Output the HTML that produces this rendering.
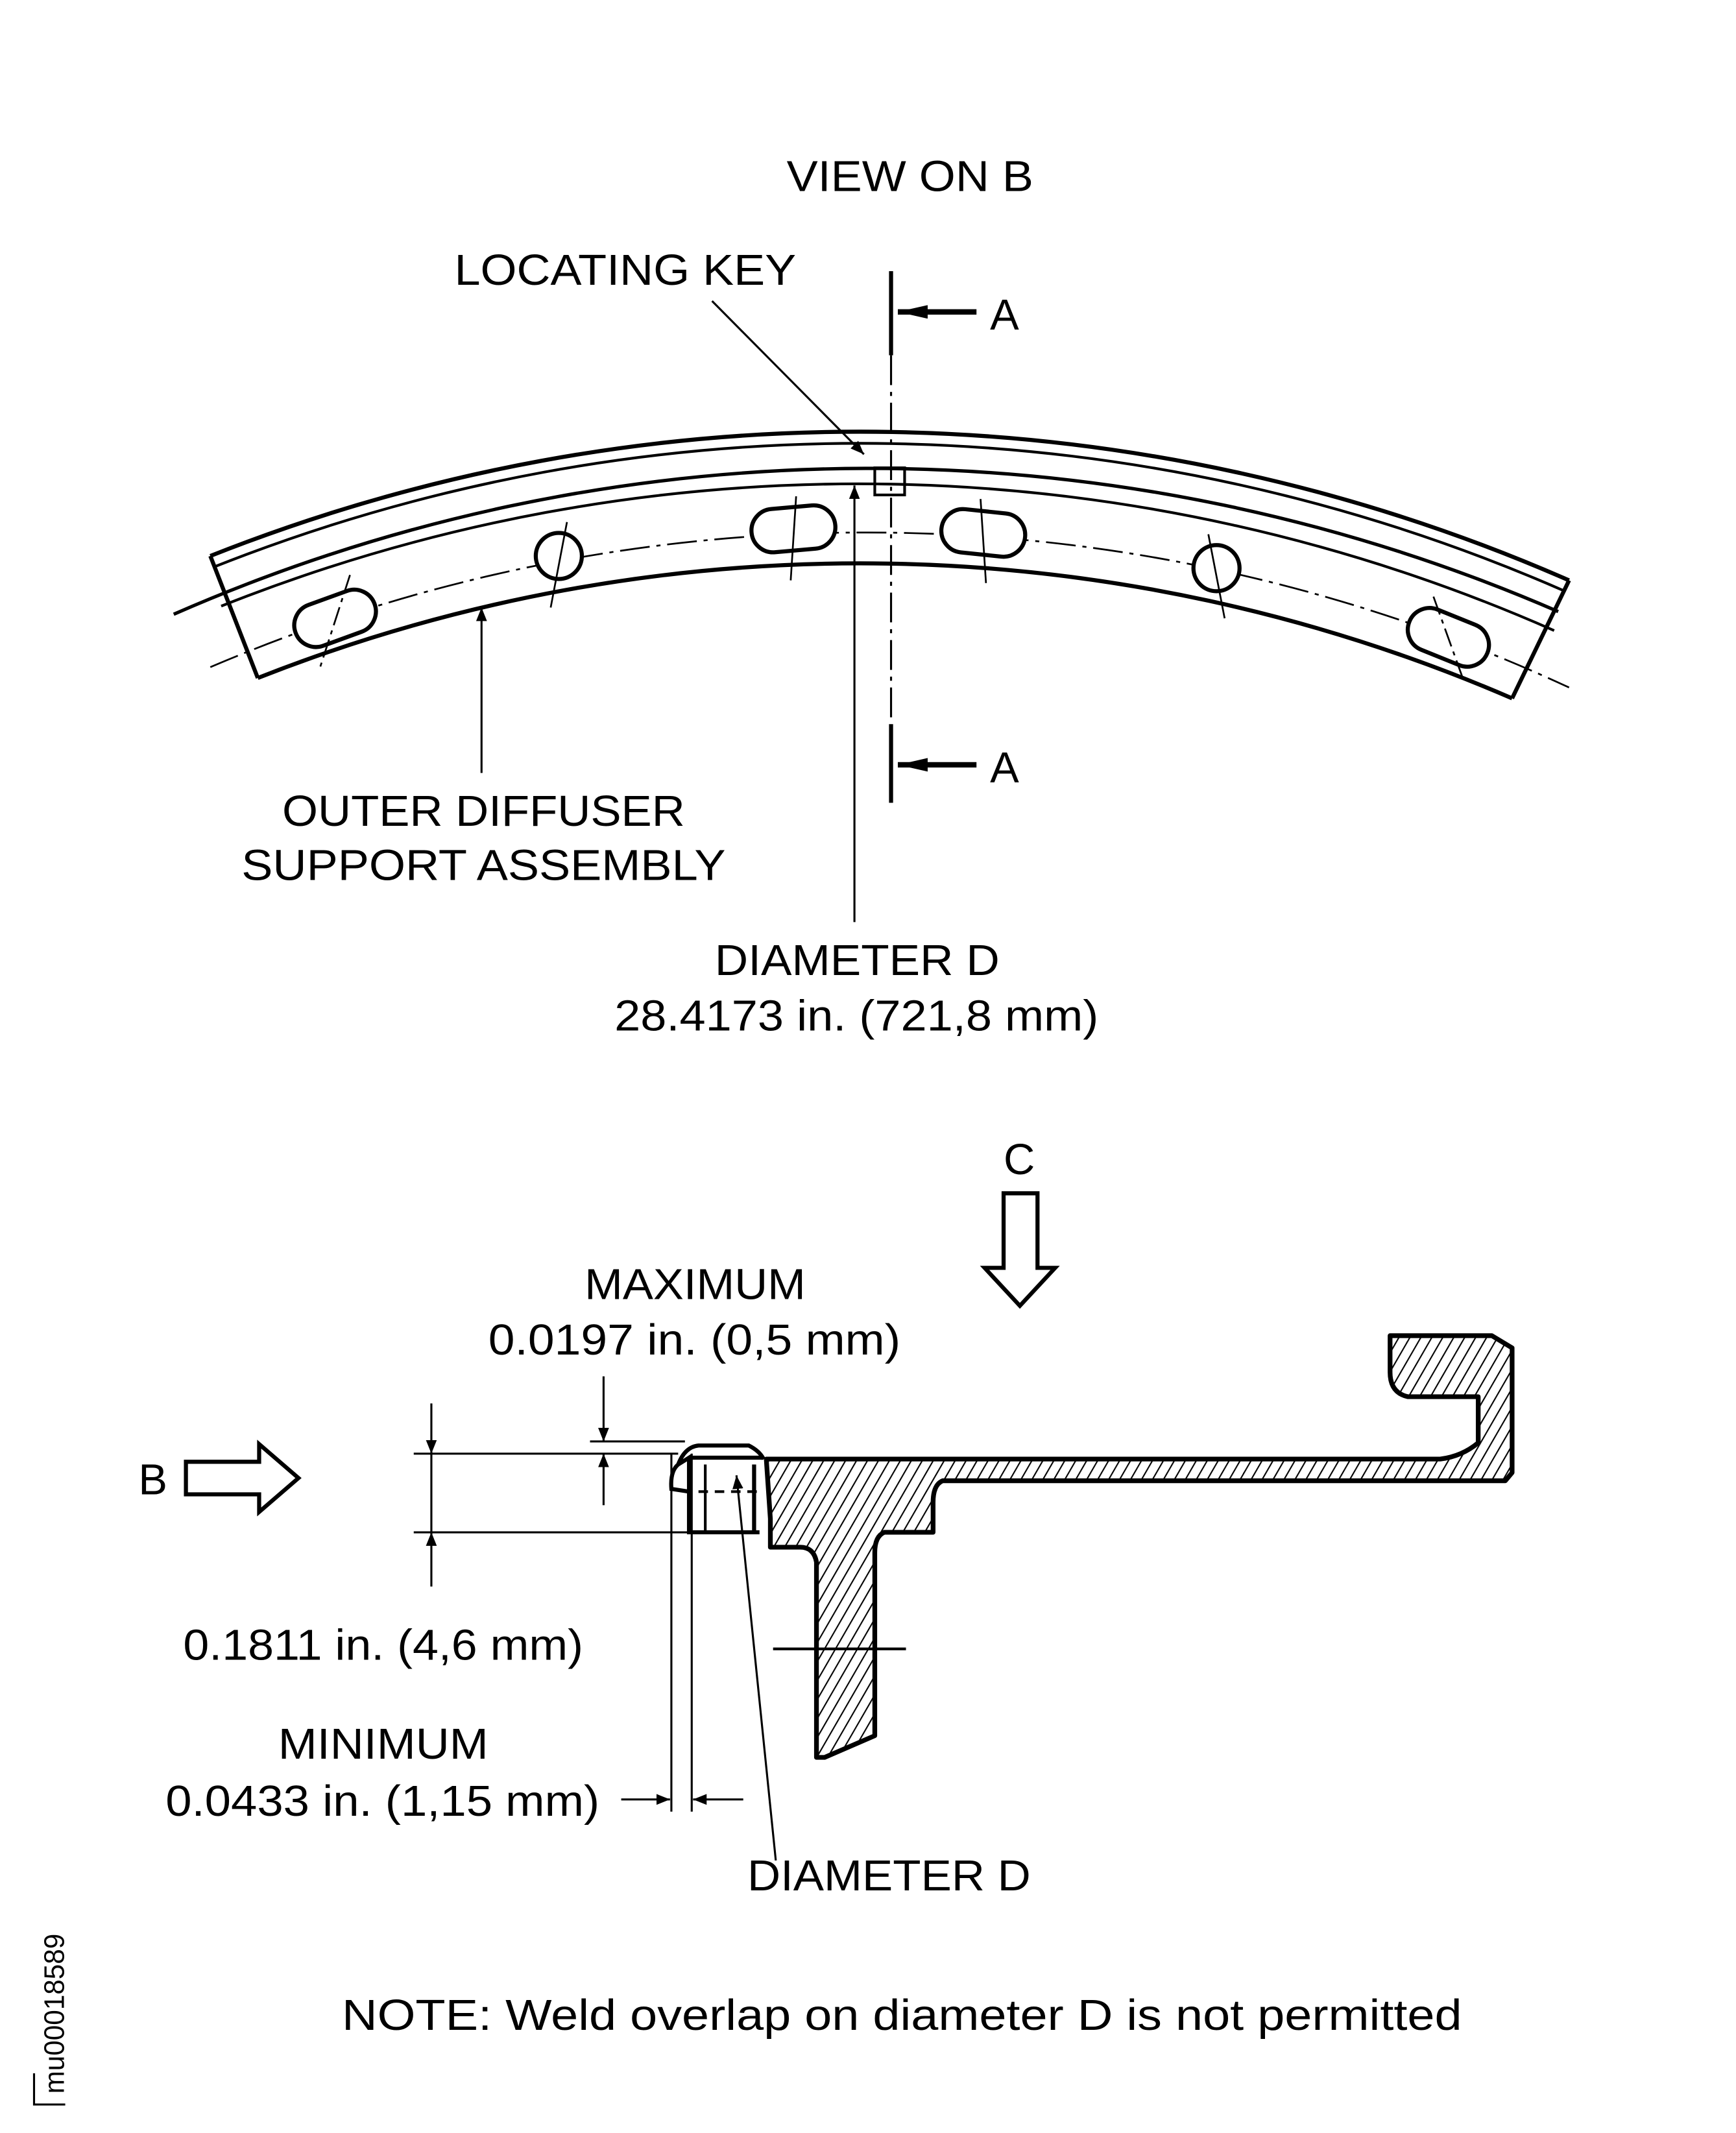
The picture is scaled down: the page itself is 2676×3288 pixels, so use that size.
<!DOCTYPE html>
<html><head><meta charset="utf-8"><style>
html,body{margin:0;padding:0;background:#fff;}
svg{display:block;}
text{font-family:"Liberation Sans",Arial,sans-serif;fill:#000;}
</style></head><body>
<svg width="2676" height="3288" viewBox="0 0 1280 1573" xmlns="http://www.w3.org/2000/svg">
<defs>
<pattern id="h" patternUnits="userSpaceOnUse" width="7" height="7" patternTransform="rotate(30)">
<line x1="0" y1="0" x2="0" y2="7" stroke="#000" stroke-width="2"/>
</pattern>
<marker id="ar" markerWidth="10" markerHeight="8" refX="10" refY="4" orient="auto" markerUnits="userSpaceOnUse" viewBox="0 0 10 8">
<path d="M0,0 L10,4 L0,8 z" fill="#000"/>
</marker>
<marker id="arb" markerWidth="22" markerHeight="10" refX="22" refY="5" orient="auto" markerUnits="userSpaceOnUse" viewBox="0 0 22 10">
<path d="M0,0 L22,5 L0,10 z" fill="#000"/>
</marker>
</defs>
<rect width="1280" height="1573" fill="#fff"/>

<g font-size="32" lengthAdjust="spacingAndGlyphs">
<text x="580" y="141" textLength="182" lengthAdjust="spacingAndGlyphs">VIEW ON B</text>
<text x="335" y="210" textLength="252" lengthAdjust="spacingAndGlyphs">LOCATING KEY</text>
<text x="730" y="243">A</text>
<text x="730" y="577">A</text>
<text x="208" y="609" textLength="297" lengthAdjust="spacingAndGlyphs">OUTER DIFFUSER</text>
<text x="178" y="649" textLength="357" lengthAdjust="spacingAndGlyphs">SUPPORT ASSEMBLY</text>
<text x="527" y="719" textLength="210" lengthAdjust="spacingAndGlyphs">DIAMETER D</text>
<text x="453" y="760" textLength="357" lengthAdjust="spacingAndGlyphs">28.4173 in. (721,8 mm)</text>
<text x="740" y="866">C</text>
<text x="431" y="958" textLength="163" lengthAdjust="spacingAndGlyphs">MAXIMUM</text>
<text x="360" y="999" textLength="304" lengthAdjust="spacingAndGlyphs">0.0197 in. (0,5 mm)</text>
<text x="102" y="1102">B</text>
<text x="135" y="1224" textLength="295" lengthAdjust="spacingAndGlyphs">0.1811 in. (4,6 mm)</text>
<text x="205" y="1297" textLength="155" lengthAdjust="spacingAndGlyphs">MINIMUM</text>
<text x="122" y="1339" textLength="320" lengthAdjust="spacingAndGlyphs">0.0433 in. (1,15 mm)</text>
<text x="551" y="1394" textLength="209" lengthAdjust="spacingAndGlyphs">DIAMETER D</text>
<text x="252" y="1497" textLength="826" lengthAdjust="spacingAndGlyphs">NOTE: Weld overlap on diameter D is not permitted</text>
</g>
<text x="0" y="0" font-size="21" transform="translate(47,1544) rotate(-90)" textLength="118" lengthAdjust="spacingAndGlyphs">mu00018589</text>
<path d="M48,1552 H25 V1529" fill="none" stroke="#000" stroke-width="1.5"/>

<g stroke="#000" fill="none">
<line x1="657" y1="200" x2="657" y2="262" stroke-width="3"/>
<line x1="657" y1="534" x2="657" y2="592" stroke-width="3"/>
<line x1="720" y1="230" x2="662" y2="230" stroke-width="4" marker-end="url(#arb)"/>
<line x1="720" y1="564" x2="662" y2="564" stroke-width="4" marker-end="url(#arb)"/>
<line x1="657" y1="262" x2="657" y2="534" stroke-width="1.5" stroke-dasharray="22,5,3,5"/>
</g>

<g stroke="#000" fill="none" stroke-width="2">
<path d="M155,410 A1300,1300 0 0 1 1157,428" stroke-width="3"/>
<path d="M158,418 A1292,1292 0 0 1 1154,436"/>
<path d="M128,453 A1276,1276 0 0 1 1149,451" stroke-width="2.5"/>
<path d="M163,447 A1270,1270 0 0 1 1146,465"/>
<path d="M190,500 A1210,1210 0 0 1 1115,515" stroke-width="3"/>
<line x1="155" y1="410" x2="190" y2="500" stroke-width="3"/>
<line x1="1157" y1="428" x2="1115" y2="515" stroke-width="3"/>
<path d="M155,492 A1230,1230 0 0 1 1157,507" stroke-width="1.3" stroke-dasharray="22,5,3,5"/>
<rect x="645" y="345" width="22" height="20" stroke-width="2"/>
</g>
<g stroke="#000" fill="#fff" stroke-width="3">
<rect x="-31" y="-16" width="62" height="32" rx="16" transform="translate(247,456) rotate(-20)"/>
<circle cx="412" cy="410" r="17"/>
<rect x="-31" y="-16" width="62" height="32" rx="16" transform="translate(585,390) rotate(-5)"/>
<rect x="-31" y="-16" width="62" height="32" rx="16" transform="translate(725,393) rotate(6)"/>
<circle cx="897" cy="419" r="17"/>
<rect x="-31" y="-16" width="62" height="32" rx="16" transform="translate(1068,470) rotate(22)"/>
</g>
<g stroke="#000" stroke-width="1.3" fill="none">
<line x1="258" y1="424" x2="236" y2="492" stroke-dasharray="14,4,3,4"/>
<line x1="418" y1="385" x2="406" y2="448"/>
<line x1="587" y1="366" x2="583" y2="428"/>
<line x1="723" y1="368" x2="727" y2="430"/>
<line x1="891" y1="394" x2="903" y2="456"/>
<line x1="1057" y1="440" x2="1080" y2="504" stroke-dasharray="14,4,3,4"/>
</g>
<g stroke="#000" fill="none" stroke-width="1.5">
<line x1="525" y1="222" x2="637" y2="335" marker-end="url(#ar)"/>
<line x1="630" y1="680" x2="630" y2="358" marker-end="url(#ar)"/>
<line x1="355" y1="570" x2="355" y2="448" marker-end="url(#ar)"/>
</g>

<path d="M740,880 H765 V935 H778 L752,963 L726,935 H740 Z" fill="none" stroke="#000" stroke-width="3"/>
<path d="M137,1078 H191 V1065 L220,1090 L191,1115 V1102 H137 Z" fill="none" stroke="#000" stroke-width="3"/>

<g stroke="#000" fill="none" stroke-width="1.5">
<line x1="305" y1="1072" x2="500" y2="1072"/>
<line x1="305" y1="1130" x2="508" y2="1130"/>
<line x1="435" y1="1063" x2="505" y2="1063"/>
<line x1="318" y1="1035" x2="318" y2="1072" marker-end="url(#ar)"/>
<line x1="318" y1="1170" x2="318" y2="1130" marker-end="url(#ar)"/>
<line x1="318" y1="1072" x2="318" y2="1130"/>
<line x1="445" y1="1015" x2="445" y2="1063" marker-end="url(#ar)"/>
<line x1="445" y1="1110" x2="445" y2="1072" marker-end="url(#ar)"/>
<line x1="495" y1="1072" x2="495" y2="1336"/>
<line x1="510" y1="1072" x2="510" y2="1336"/>
<line x1="458" y1="1327" x2="494" y2="1327" marker-end="url(#ar)"/>
<line x1="548" y1="1327" x2="511" y2="1327" marker-end="url(#ar)"/>
<line x1="572" y1="1372" x2="543" y2="1088" marker-end="url(#ar)"/>
</g>

<g stroke="#000" fill="none" stroke-width="3">
<path d="M560,1130 H508 V1075 L500,1080 Q494,1085 495,1098 L508,1100"/>
<path d="M500,1080 Q505,1067 515,1066 H552 Q560,1070 563,1076"/>
<line x1="508" y1="1075" x2="563" y2="1075"/>
<line x1="556" y1="1080" x2="556" y2="1130"/>
<line x1="520" y1="1080" x2="520" y2="1130" stroke-width="2"/>
<line x1="515" y1="1100" x2="560" y2="1100" stroke-width="2" stroke-dasharray="7,5"/>
</g>

<path d="M565,1076 H1062 Q1078,1074 1090,1064 V1030 H1038 Q1025,1027 1025,1012 V985 H1100 L1115,994 V1086 L1110,1092 H695 Q688,1095 688,1108 V1130 H652 Q645,1133 645,1145 V1280 L608,1296 H602 V1152 Q600,1141 590,1141 H568 V1120 Z"
 fill="url(#h)" stroke="#000" stroke-width="3.5" stroke-linejoin="round"/>
<line x1="570" y1="1216" x2="668" y2="1216" stroke="#000" stroke-width="2"/>
</svg>
</body></html>
